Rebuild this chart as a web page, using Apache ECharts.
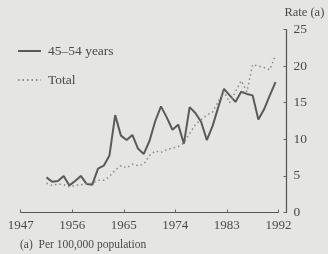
<!DOCTYPE html>
<html>
<head>
<meta charset="utf-8">
<script src="https://cdn.jsdelivr.net/npm/echarts@6/dist/echarts.min.js"></script>
<style>
  html, body { margin: 0; padding: 0; background: #e5e5e3; }
  #chart { width: 328px; height: 254px; }
</style>
</head>
<body>
<div id="chart"></div>
<script>
    // years 1951..1991, rate per 100,000 population
    let years = [1951, 1952, 1953, 1954, 1955, 1956, 1957, 1958, 1959, 1960,
        1961, 1962, 1963, 1964, 1965, 1966, 1967, 1968, 1969, 1970,
        1971, 1972, 1973, 1974, 1975, 1976, 1977, 1978, 1979, 1980,
        1981, 1982, 1983, 1984, 1985, 1986, 1987, 1988, 1989, 1990, 1991];
    let age4554 = [4.8, 4.2, 4.3, 5.0, 3.7, 4.3, 5.0, 3.9, 3.8, 6.0,
        6.4, 7.8, 13.3, 10.5, 9.9, 10.6, 8.7, 8.0, 9.8, 12.5,
        14.5, 13.0, 11.3, 12.0, 9.4, 14.4, 13.6, 12.4, 9.9, 11.8,
        14.4, 16.9, 16.0, 15.1, 16.5, 16.2, 16.0, 12.7, 14.1, 16.0, 17.8];
    let total = [4.0, 3.7, 3.9, 3.8, 3.5, 3.7, 3.8, 3.9, 4.0, 4.4,
        4.4, 4.9, 5.8, 6.4, 6.1, 6.6, 6.4, 6.6, 7.8, 8.4,
        8.2, 8.6, 8.8, 9.0, 9.5, 10.8, 12.0, 12.7, 13.3, 13.7,
        15.2, 16.5, 15.0, 16.5, 18.0, 16.5, 20.2, 20.0, 19.8, 19.5, 21.5];
    let xTicks = [1947, 1956, 1965, 1974, 1983, 1992];
    let yTicks = [0, 5, 10, 15, 20, 25];

    // annual rates are plotted at mid-year
    function pairs(values) {
        return years.map(function (y, i) {
            return [y + 0.5, values[i]];
        });
    }

    let font = "'Liberation Serif', 'DejaVu Serif', serif";
    let myChart = echarts.init(document.getElementById('chart'));
    myChart.setOption({
        backgroundColor: '#e5e5e3',
        animation: false,
        textStyle: {fontFamily: font},
        grid: {
            left: 20.7,
            right: 49.6,
            top: 29.5,
            bottom: 41.5
        },
        legend: {
            orient: 'vertical',
            left: 17,
            top: 44,
            padding: 0,
            itemWidth: 23,
            itemHeight: 10,
            itemGap: 15,
            itemStyle: {opacity: 0},
            textStyle: {fontFamily: font, fontSize: 13.5, color: '#4a4a4a', padding: [0, 0, 0, 2]},
            data: ['45\u201354 years', 'Total']
        },
        xAxis: {
            type: 'value',
            min: xTicks[0],
            max: xTicks[xTicks.length - 1],
            interval: 9,
            axisLine: {lineStyle: {color: '#555', width: 1.2}},
            axisTick: {inside: true, length: 3, lineStyle: {color: '#666'}},
            splitLine: {show: false},
            axisLabel: {
                color: '#4a4a4a',
                fontSize: 13,
                fontFamily: font,
                margin: 7,
                formatter: function (v) { return String(v); }
            }
        },
        yAxis: {
            type: 'value',
            position: 'right',
            offset: 8,
            min: yTicks[0],
            max: yTicks[yTicks.length - 1],
            interval: 5,
            name: 'Rate (a)',
            nameLocation: 'end',
            nameGap: 10,
            nameTextStyle: {
                color: '#4a4a4a',
                fontSize: 12.5,
                fontFamily: font,
                align: 'left',
                padding: [0, 0, 0, -2]
            },
            axisLine: {show: true, lineStyle: {color: '#555', width: 1.2}},
            axisTick: {show: true, inside: true, length: 3, lineStyle: {color: '#666'}},
            splitLine: {show: false},
            axisLabel: {
                color: '#4a4a4a',
                fontSize: 13.5,
                fontFamily: font,
                margin: 7
            }
        },
        series: [
            {
                name: '45\u201354 years',
                type: 'line',
                data: pairs(age4554),
                symbol: 'none',
                lineStyle: {color: '#5a5a5a', width: 2},
                itemStyle: {color: '#5a5a5a'}
            },
            {
                name: 'Total',
                type: 'line',
                data: pairs(total),
                symbol: 'none',
                lineStyle: {color: '#8a8a8a', width: 1.5, type: [1.5, 3]},
                itemStyle: {color: '#8a8a8a'}
            }
        ],
        graphic: [
            {
                type: 'text',
                left: 20,
                top: 239,
                style: {
                    text: '(a)  Per 100,000 population',
                    fontFamily: font,
                    fontSize: 11.5,
                    fill: '#4a4a4a'
                }
            }
        ]
    });
</script>
</body>
</html>
